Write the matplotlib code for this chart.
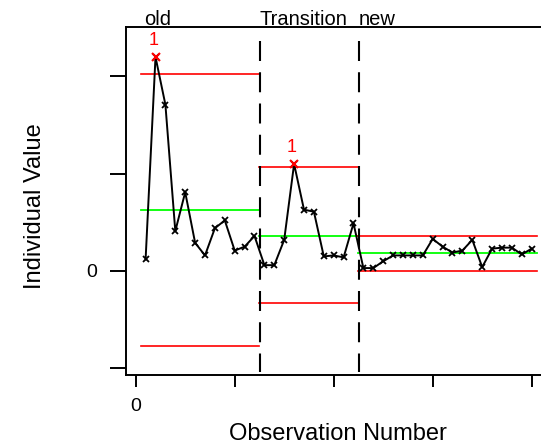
import matplotlib
matplotlib.use("Agg")
import matplotlib.pyplot as plt
import numpy as np

plt.rcParams['font.family'] = ['Liberation Sans', 'DejaVu Sans']

# individual values per phase
old_vals = [0.12, 2.20, 1.71, 0.41, 0.81, 0.29, 0.16, 0.44, 0.52, 0.21, 0.25, 0.36]
trans_vals = [0.06, 0.06, 0.32, 1.10, 0.63, 0.61, 0.15, 0.16, 0.14, 0.49]
new_vals = [0.03, 0.03, 0.10, 0.16, 0.16, 0.16, 0.16, 0.33, 0.25, 0.19,
            0.21, 0.32, 0.04, 0.23, 0.24, 0.24, 0.17, 0.23]

phase_names = ["old", "Transition", "new"]
center = [0.626, 0.359, 0.181]
ucl = [2.02, 1.07, 0.362]
lcl = [-0.77, -0.325, 0.0]

phases = [old_vals, trans_vals, new_vals]
values = np.concatenate(phases)
obs = np.arange(1, len(values) + 1)

fig = plt.figure(figsize=(5.41, 4.44), dpi=100)
ax = fig.add_axes([126/541, 69/444, 415/541, 348/444])

# phase bounds
starts = []
s = 0.5
for p in phases:
    starts.append(s)
    s += len(p)
ends = [st + len(p) for st, p in zip(starts, phases)]

for i in range(3):
    ax.plot([starts[i], ends[i]], [ucl[i], ucl[i]], color='#ff0000', lw=1.2)
    ax.plot([starts[i], ends[i]], [lcl[i], lcl[i]], color='#ff0000', lw=1.2)
    ax.plot([starts[i], ends[i]], [center[i], center[i]], color='#00ff00', lw=1.3)

# dashed phase separators
for b in ends[:-1]:
    ax.plot([b + 0.1, b + 0.1], [2.36, -1.04], color='black', lw=1.5, dashes=(9.6, 5.4),
            clip_on=False)

ax.plot(obs, values, color='black', lw=1.4, marker='x', ms=4.5, mew=1.3)

# out of control points
k = 0
for i, p in enumerate(phases):
    for v in p:
        k += 1
        if v > ucl[i]:
            ax.plot(k, v, marker='x', color='#ff0000', ms=6, mew=1.5)
            ax.text(k - 0.2, v + 0.08, "1", color='#ff0000', fontsize=13,
                    ha='center', va='bottom')

# phase labels
label_x = [0.9, ends[0], ends[1]]
for name, lx in zip(phase_names, label_x):
    ax.text(lx, 2.525, name, fontsize=14.5, ha='left', va='baseline', clip_on=False)

ax.set_xlim(-0.98, 40.94)
ax.set_ylim(-1.069, 2.508)
ax.set_xticks([0, 10, 20, 30, 40])
ax.set_xticklabels(["0", "", "", "", ""])
ax.set_yticks([-1, 0, 1, 2])
ax.set_yticklabels(["", "0", "", ""])
ax.tick_params(axis='x', length=8.6, width=1.4, pad=8, labelsize=14)
ax.tick_params(axis='y', length=11.5, width=1.4, pad=9, labelsize=14)
for sp in ['left', 'top', 'bottom']:
    ax.spines[sp].set_linewidth(1.4)
ax.spines['right'].set_visible(False)

fig.text(338/541, 1 - 434/444, "Observation Number", fontsize=17, ha='center', va='center')
fig.text(35/541, 1 - 206/444, "Individual Value", fontsize=17, ha='center', va='center',
         rotation=90)

fig.savefig("out.png", dpi=100)
